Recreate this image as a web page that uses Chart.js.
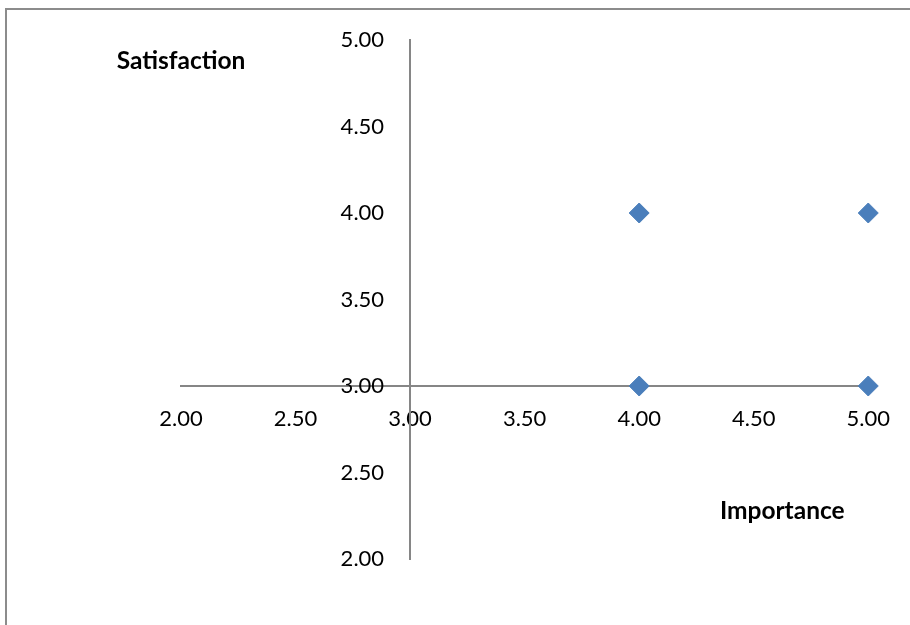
<!DOCTYPE html>
<html>
<head>
<meta charset="utf-8">
<title>Importance vs Satisfaction</title>
<script src="https://cdn.jsdelivr.net/npm/chart.js@4.4.0/dist/chart.umd.min.js"></script>
<style>
  html, body { margin: 0; padding: 0; background: #ffffff; }
  #wrap { position: relative; width: 910px; height: 625px; }
</style>
</head>
<body>
<div id="wrap"><canvas id="chart"></canvas></div>
<script>
// data
const importance   = [4, 5, 4, 5];
const satisfaction = [4, 4, 3, 3];
const xTicks = [2, 2.5, 3, 3.5, 4, 4.5, 5];
const yTicks = [2, 2.5, 3, 3.5, 4, 4.5, 5];
const xTitle = 'Importance';
const yTitle = 'Satisfaction';
const crossAt = 3;

const FONT = 'Lato, "Open Sans", sans-serif';
const AXIS_GREY = '#868686';
const MARKER_BLUE = '#4a7ebb';
const LABEL_GAP = 26;   // Excel keeps the value labels away from the crossing axis

// outer frame, the vertical axis labels and the two floating titles, Excel style
const decorations = {
  id: 'decorations',
  beforeDraw(chart) {
    const ctx = chart.ctx;
    ctx.save();
    ctx.strokeStyle = '#8c8c8c';
    ctx.lineWidth = 2;
    ctx.beginPath();
    ctx.moveTo(6, chart.height);
    ctx.lineTo(6, 9);
    ctx.lineTo(chart.width, 9);
    ctx.stroke();
    ctx.restore();
  },
  afterDraw(chart) {
    const ctx = chart.ctx;
    const area = chart.chartArea;
    const xs = chart.scales.x;
    const ys = chart.scales.y;
    ctx.save();
    ctx.fillStyle = '#000000';

    // y value labels sit left of the axis that crosses at x = 3
    ctx.font = '22px ' + FONT;
    ctx.textAlign = 'right';
    ctx.textBaseline = 'middle';
    const xAxisPx = xs.getPixelForValue(crossAt);
    ys.ticks.forEach(t => {
      ctx.fillText(Number(t.value).toFixed(2), xAxisPx - LABEL_GAP, ys.getPixelForValue(t.value));
    });

    ctx.font = 'bold 24.5px ' + FONT;
    ctx.textAlign = 'center';
    ctx.fillText(yTitle, area.left, 61);
    ctx.fillText(xTitle, area.right - 86, 511);
    ctx.restore();
  }
};

const data = {
  datasets: [{
    label: 'Satisfaction',
    data: importance.map((x, i) => ({ x: x, y: satisfaction[i] })),
    pointStyle: 'rectRot',
    pointRadius: 10,
    pointHoverRadius: 10,
    backgroundColor: MARKER_BLUE,
    borderColor: MARKER_BLUE,
    borderWidth: 1,
    clip: false
  }]
};

new Chart(document.getElementById('chart'), {
  type: 'scatter',
  data: data,
  plugins: [decorations],
  options: {
    responsive: true,
    maintainAspectRatio: false,
    animation: false,
    layout: { padding: { left: 181, right: 41, top: 40, bottom: 66 } },
    plugins: {
      legend: { display: false },
      tooltip: { enabled: false }
    },
    scales: {
      x: {
        type: 'linear',
        min: 2,
        max: 5,
        position: { y: crossAt },
        afterBuildTicks: (scale) => { scale.ticks = xTicks.map(v => ({ value: v })); },
        grid: { display: false, drawTicks: false },
        border: { display: true, color: AXIS_GREY, width: 2 },
        ticks: {
          autoSkip: false,
          maxRotation: 0,
          padding: 20,
          color: '#000000',
          font: { family: FONT, size: 22 },
          callback: (v) => Number(v).toFixed(2)
        }
      },
      y: {
        type: 'linear',
        min: 2,
        max: 5,
        position: { x: crossAt },
        afterBuildTicks: (scale) => { scale.ticks = yTicks.map(v => ({ value: v })); },
        grid: { display: false, drawTicks: false },
        border: { display: true, color: AXIS_GREY, width: 2 },
        ticks: { display: false }
      }
    }
  }
});
</script>
</body>
</html>
